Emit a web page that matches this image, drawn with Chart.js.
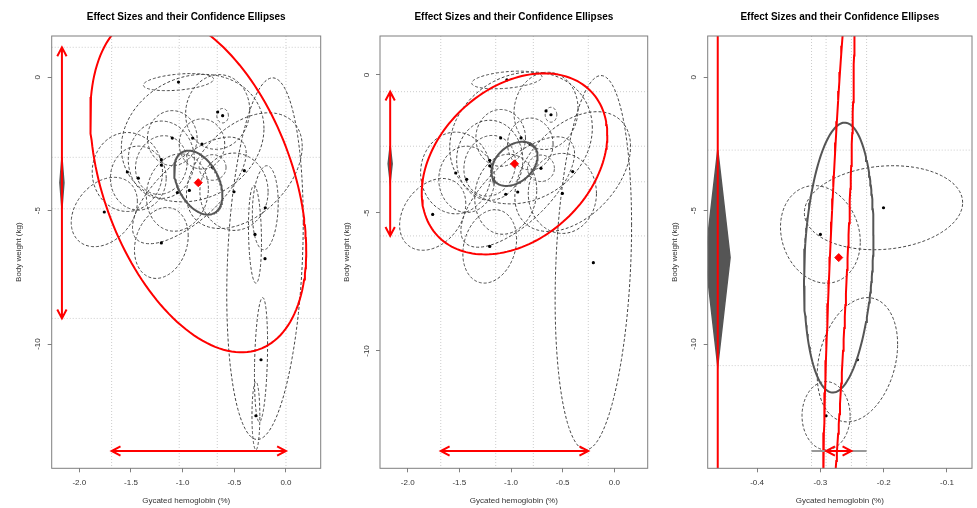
<!DOCTYPE html>
<html lang="en">
<head>
<meta charset="UTF-8">
<title>Effect Sizes and their Confidence Ellipses</title>
<script src="https://cdn.jsdelivr.net/npm/chart.js"></script>
<style>
  body { margin: 0; background: #fff; }
  .panel { position: absolute; top: 0; }
</style>
</head>
<body>
<div class="panel" style="left:0px"><canvas id="c0" width="330" height="508"></canvas></div>
<div class="panel" style="left:330px"><canvas id="c1" width="330" height="508"></canvas></div>
<div class="panel" style="left:660px"><canvas id="c2" width="317" height="508"></canvas></div>
<script>
// study effects (x = HbA1c, y = body weight) and their ellipse half-widths / correlation
const studyX   = [-1.04, -0.661, -0.613, -1.10, -0.903, -0.813, -1.206, -1.206, -1.535, -1.429, -0.71, -0.403, -0.935, -1.051, -0.503, -1.758, -1.206, -0.203, -0.2003, -0.300, -0.2415, -0.291];
const studyY   = [-0.18, -1.30, -1.44, -2.28, -2.28, -2.50, -3.09, -3.29, -3.55, -3.78, -3.38, -3.50, -4.24, -4.32, -4.29, -5.05, -6.21, -6.80, -4.89, -5.89, -10.59, -12.69];
const studySdX = [0.34, 0.31, 0.056, 0.24, 0.69, 0.22, 0.32, 0.25, 0.34, 0.27, 0.13, 0.56, 0.55, 0.30, 0.33, 0.32, 0.26, 0.37, 0.125, 0.063, 0.0635, 0.038];
const studySdY = [0.32, 1.40, 0.27, 1.03, 2.39, 0.94, 1.45, 1.10, 1.48, 1.20, 0.48, 2.17, 2.00, 1.45, 1.45, 1.30, 1.33, 6.78, 1.575, 1.83, 2.33, 1.28];
const studyRho = [0.35, 0.05, 0, 0, 0.15, 0, 0, 0.1, 0, 0, 0, 0.42, 0.7, 0.1, 0, 0.3, 0.2, 0.2, 0.12, -0.15, 0.25, 0];
const studyGroup = ['A','A','A','A','A','A','A','A','A','A','A','A','A','A','A','A','A','A','B','B','B','B'];

// one entry per panel
const panelGroups = [['A', 'B'], ['A'], ['B']];
const pooledX = [-0.849, -0.966, -0.271];
const pooledY = [-3.95, -3.22, -6.76];
const confSdX = [0.234, 0.223, 0.0549];
const confSdY = [1.20, 0.80, 5.06];
const confRho = [-0.4, 0.35, 0.17];
const predSdX = [1.045, 0.898, 0.025];
const predSdY = [6.36, 3.28, 11.2];
const predRho = [-0.4, 0.32, 0.83];
const ciXLow  = [-1.033, -1.148, -0.314];
const ciXHigh = [-0.665, -0.784, -0.227];
const ciYLow  = [-4.93, -3.87, -10.81];
const ciYHigh = [-3.00, -2.58, -2.73];
const piXLow  = [-1.687, -1.68, -0.291];
const piXHigh = [0.0, -0.252, -0.251];
const piYLow  = [-9.04, -5.83, -15.7];
const piYHigh = [1.125, -0.605, 2.2];
const xLimits = [[-2.267, 0.336], [-2.268, 0.323], [-0.478, -0.0605]];
const yLimits = [[-14.66, 1.549], [-14.25, 1.413], [-14.66, 1.549]];
const xTickValues = [[-2, -1.5, -1, -0.5, 0], [-2, -1.5, -1, -0.5, 0], [-0.4, -0.3, -0.2, -0.1]];
const yTickValues = [0, -5, -10];

// layout
const axisW = [51.7, 50, 47.7];
const padRight = [9.3, 12.3, 1.7];
const diamondHalfW = 0.0195;

Chart.defaults.font.family = '"Liberation Sans", Arial, sans-serif';

function ellipse(cx, cy, sx, sy, rho) {
    const pts = [];
    const k = Math.sqrt(1 - rho * rho);
    for (let i = 0; i <= 160; i++) {
        const t = i / 160 * 2 * Math.PI;
        pts.push({ x: cx + sx * Math.cos(t), y: cy + sy * (rho * Math.cos(t) + k * Math.sin(t)) });
    }
    return pts;
}

function edgeX(p) { return xLimits[p][0] + 0.038 * (xLimits[p][1] - xLimits[p][0]); }
function edgeY(p) { return yLimits[p][0] + 0.04 * (yLimits[p][1] - yLimits[p][0]); }

function arrow(ctx, x1, y1, x2, y2) {
    const ang = Math.atan2(y2 - y1, x2 - x1);
    const len = 10, spread = Math.PI / 6.5;
    ctx.beginPath();
    ctx.moveTo(x1, y1);
    ctx.lineTo(x2, y2);
    [[x1, y1, ang + Math.PI], [x2, y2, ang]].forEach(([hx, hy, a]) => {
        ctx.moveTo(hx - len * Math.cos(a - spread), hy - len * Math.sin(a - spread));
        ctx.lineTo(hx, hy);
        ctx.lineTo(hx - len * Math.cos(a + spread), hy - len * Math.sin(a + spread));
    });
    ctx.stroke();
}

const overlay = {
    id: 'overlay',
    beforeDatasetsDraw(chart, args, opts) {
        const p = opts.panel;
        const { ctx, chartArea: a, scales: { x, y } } = chart;
        ctx.save();
        ctx.strokeStyle = '#cccccc';
        ctx.lineWidth = 1;
        ctx.setLineDash([1, 2]);
        [ciXLow[p], ciXHigh[p], piXLow[p], piXHigh[p]].forEach(v => {
            const px = x.getPixelForValue(v);
            if (px <= a.left || px >= a.right) return;
            ctx.beginPath(); ctx.moveTo(px, a.top); ctx.lineTo(px, a.bottom); ctx.stroke();
        });
        [ciYLow[p], ciYHigh[p], piYLow[p], piYHigh[p]].forEach(v => {
            const py = y.getPixelForValue(v);
            if (py <= a.top || py >= a.bottom) return;
            ctx.beginPath(); ctx.moveTo(a.left, py); ctx.lineTo(a.right, py); ctx.stroke();
        });
        ctx.restore();
    },
    afterDatasetsDraw(chart, args, opts) {
        const p = opts.panel;
        const { ctx, chartArea: a, scales: { x, y } } = chart;
        ctx.save();
        ctx.beginPath();
        ctx.rect(a.left, a.top, a.right - a.left, a.bottom - a.top);
        ctx.clip();
        const ay = y.getPixelForValue(edgeY(p));
        const ax = x.getPixelForValue(edgeX(p));
        // CI bar for x
        ctx.strokeStyle = '#999';
        ctx.lineWidth = 2;
        ctx.beginPath();
        ctx.moveTo(x.getPixelForValue(ciXLow[p]), ay);
        ctx.lineTo(x.getPixelForValue(ciXHigh[p]), ay);
        ctx.stroke();
        // prediction arrows
        ctx.strokeStyle = '#ff0000';
        ctx.lineWidth = 2;
        arrow(ctx, x.getPixelForValue(piXLow[p]), ay, x.getPixelForValue(piXHigh[p]), ay);
        arrow(ctx, ax, y.getPixelForValue(piYHigh[p]), ax, y.getPixelForValue(piYLow[p]));
        ctx.restore();

        ctx.save();
        ctx.strokeStyle = '#7f7f7f';
        ctx.lineWidth = 1;
        ctx.strokeRect(a.left, a.top, a.right - a.left, a.bottom - a.top);
        // y tick labels, R style (rotated)
        ctx.fillStyle = '#333';
        ctx.font = '8px "Liberation Sans", Arial, sans-serif';
        ctx.textAlign = 'center';
        ctx.textBaseline = 'middle';
        yTickValues.forEach(v => {
            ctx.save();
            ctx.translate(a.left - 13.5, y.getPixelForValue(v));
            ctx.rotate(-Math.PI / 2);
            ctx.fillText(String(v), 0, 0);
            ctx.restore();
        });
        ctx.restore();
    }
};

function buildDatasets(p) {
    const ds = [];
    studyX.forEach((v, k) => {
        if (!panelGroups[p].includes(studyGroup[k])) return;
        ds.push({
            data: ellipse(studyX[k], studyY[k], studySdX[k], studySdY[k], studyRho[k]),
            showLine: true, pointRadius: 0, borderColor: '#444', borderWidth: 1, borderDash: [3, 2]
        });
    });
    const pts = [];
    studyX.forEach((v, k) => {
        if (panelGroups[p].includes(studyGroup[k])) pts.push({ x: studyX[k], y: studyY[k] });
    });
    ds.push({ data: pts, pointRadius: 1.6, pointBackgroundColor: '#000', pointBorderWidth: 0 });
    const dx = edgeX(p);
    ds.push({
        data: [
            { x: dx, y: ciYHigh[p] }, { x: dx + diamondHalfW, y: pooledY[p] },
            { x: dx, y: ciYLow[p] }, { x: dx - diamondHalfW, y: pooledY[p] }, { x: dx, y: ciYHigh[p] }
        ],
        showLine: true, pointRadius: 0, borderColor: '#555', borderWidth: 1.5,
        backgroundColor: '#555', fill: 'shape'
    });
    ds.push({
        data: ellipse(pooledX[p], pooledY[p], confSdX[p], confSdY[p], confRho[p]),
        showLine: true, pointRadius: 0, borderColor: '#555', borderWidth: 2
    });
    ds.push({
        data: ellipse(pooledX[p], pooledY[p], predSdX[p], predSdY[p], predRho[p]),
        showLine: true, pointRadius: 0, borderColor: '#ff0000', borderWidth: 2
    });
    ds.push({
        data: [{ x: pooledX[p], y: pooledY[p] }],
        pointStyle: 'rectRot', pointRadius: 4, pointBackgroundColor: '#ff0000', pointBorderColor: '#ff0000', pointBorderWidth: 1
    });
    return ds.reverse();
}

for (let p = 0; p < 3; p++) {
    new Chart(document.getElementById('c' + p), {
        type: 'scatter',
        data: { datasets: buildDatasets(p) },
        options: {
            responsive: false,
            animation: false,
            events: [],
            layout: { padding: { left: 0, right: padRight[p], top: 0, bottom: 0 } },
            plugins: {
                legend: { display: false },
                tooltip: { enabled: false },
                title: {
                    display: true, text: 'Effect Sizes and their Confidence Ellipses', fullSize: false,
                    color: '#000', font: { size: 10, weight: 'bold' }, padding: { top: 11.5, bottom: 12.5 }
                },
                overlay: { panel: p }
            },
            scales: {
                x: {
                    type: 'linear', min: xLimits[p][0], max: xLimits[p][1],
                    afterBuildTicks: s => { s.ticks = xTickValues[p].map(v => ({ value: v })); },
                    afterFit: s => { s.height = 508 - 468.3; },
                    ticks: { autoSkip: false, maxRotation: 0, color: '#333', font: { size: 8 }, padding: 5.5,
                             callback: v => Number(v).toFixed(1) },
                    grid: { drawOnChartArea: false, drawTicks: true, tickLength: 4, color: '#7f7f7f' },
                    border: { display: false },
                    title: { display: true, text: 'Gycated hemoglobin (%)', color: '#333', font: { size: 8 },
                             padding: { top: 0, bottom: 2 } }
                },
                y: {
                    type: 'linear', min: yLimits[p][0], max: yLimits[p][1],
                    afterBuildTicks: s => { s.ticks = yTickValues.map(v => ({ value: v })); },
                    afterFit: s => { s.width = axisW[p]; },
                    ticks: { display: false },
                    grid: { drawOnChartArea: false, drawTicks: true, tickLength: 4, color: '#7f7f7f' },
                    border: { display: false },
                    title: { display: true, text: 'Body weight (kg)', color: '#333', font: { size: 8 },
                             padding: { top: axisW[p] - 33.3 - 4.8, bottom: 0 } }
                }
            }
        },
        plugins: [overlay]
    });
}
</script>
</body>
</html>
